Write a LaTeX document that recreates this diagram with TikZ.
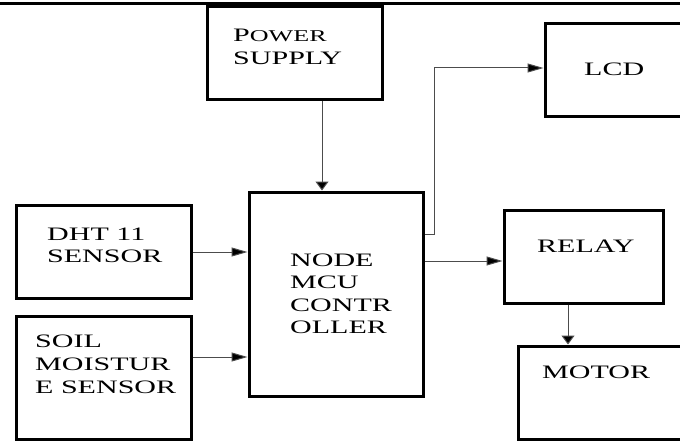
\documentclass[tikz,border=0pt]{standalone}
\usepackage{graphicx}
\usepackage{fontspec}
\setmainfont{Liberation Serif}
\usetikzlibrary{arrows.meta,calc}
\newcommand{\sx}[1]{\scalebox{1.58}[1]{#1}}
\tikzset{
  box/.style={draw=black, line width=3pt, inner sep=0pt},
  conn/.style={draw=black!70, line width=1pt},
  harr/.style={conn, -{Triangle[length=16pt,width=9pt,fill=black]}},
  varr/.style={conn, -{Triangle[length=9pt,width=13pt,fill=black]}},
  lbl/.style={inner sep=0pt, font=\fontsize{19}{23}\selectfont, align=left},
}
\begin{document}
\begin{tikzpicture}[x=1pt,y=-1pt]
\useasboundingbox (0,0) rectangle (680,441);
\clip (0,0) rectangle (680,441);
\fill[white] (0,0) rectangle (680,441);
% top rule
\coordinate (tl) at (0,3.5);
\coordinate (tr) at (680,3.5);
\draw[line width=3pt] (tl) -- (tr);
% boxes
\node[box, minimum width=175pt, minimum height=93pt]  (power) at (294.5,53.5) {};
\node[box, minimum width=174pt, minimum height=204pt] (mcu)   at (336,294) {};
\node[box, minimum width=175pt, minimum height=93pt]  (dht)   at (103.5,251.5) {};
\node[box, minimum width=175pt, minimum height=123pt] (soil)  at (103.5,377.5) {};
\node[box, minimum width=140pt, minimum height=93pt]  (lcd)   at (615,70.5) {};
\node[box, minimum width=159pt, minimum height=93pt]  (relay) at (583.5,256.5) {};
\node[box, minimum width=168pt, minimum height=93pt]  (motor) at (602,392.5) {};
% texts
\node[lbl, anchor=north west] (tpower) at (233,28.5) {\sx{P{\fontsize{16.5}{23}\selectfont OWER}}\\\sx{SUPPLY}};
\node[lbl, anchor=north west] (tdht) at (47,227.5) {\sx{DHT 11}\\[-1pt]\sx{SENSOR}};
\node[lbl, anchor=north west] (tsoil) at (35,334.5) {\sx{SOIL}\\\sx{MOISTUR}\\\sx{E SENSOR}};
\node[lbl, anchor=north west] (tmcu) at (290,253.5) {\sx{NODE}\\[-0.5pt]\sx{MCU}\\[-0.5pt]\sx{CONTR}\\[-0.5pt]\sx{OLLER}};
\node[lbl, anchor=base west] (tlcd) at (584,76) {\sx{LCD}};
\node[lbl, anchor=base west] (trelay) at (537,252) {\sx{RELAY}};
\node[lbl, anchor=base west] (tmotor) at (542,378) {\sx{MOTOR}};
% connectors
\draw[varr] ([xshift=27.5pt]power.south) -- ([xshift=-14pt]mcu.north);
\draw[harr] ([yshift=-0.5pt]dht.east) -- ([yshift=-0.5pt]dht.east -| mcu.west);
\coordinate (s1) at ([yshift=20.5pt]soil.east);
\draw[harr] (s1) -- (s1 -| mcu.west);
\coordinate (m1) at ([yshift=60pt]mcu.east);
\coordinate (l1) at ([yshift=2.5pt]lcd.west);
\draw[harr] (m1) -- ++(10pt,0) |- (l1);
\coordinate (m2) at ([yshift=33pt]mcu.east);
\draw[harr] (m2) -- (m2 -| relay.west);
\coordinate (r1) at ([xshift=-15.5pt]relay.south);
\draw[varr] (r1) -- (r1 |- motor.north);
\end{tikzpicture}
\end{document}
